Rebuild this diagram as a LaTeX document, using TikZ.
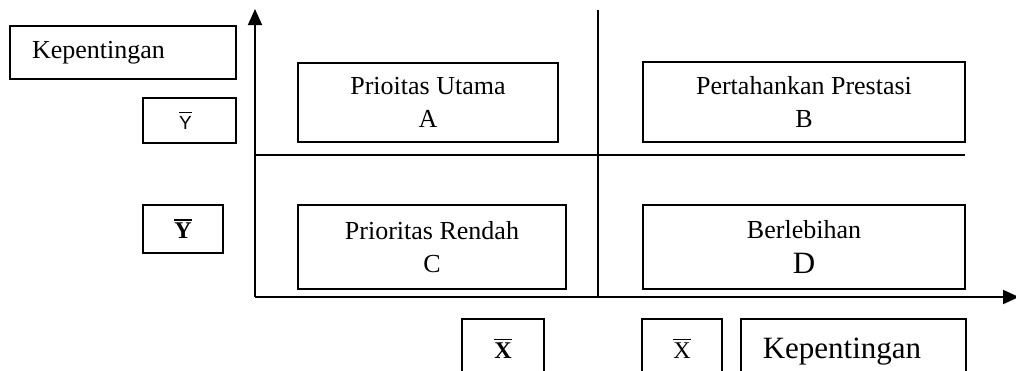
\documentclass[tikz,border=0pt]{standalone}
\usepackage{fontspec}
\setmainfont{Liberation Serif}
\newfontfamily\arialf{Liberation Sans}
\usetikzlibrary{arrows.meta}
\newcommand\barlbl[1]{\leavevmode\vbox{\hrule height 1.5pt\kern 2.6pt\hbox{#1}}}
\begin{document}
\begin{tikzpicture}[x=1pt,y=-1pt,
  box/.style={draw,line width=1.5pt,inner sep=0pt,align=center},
  txt/.style={font=\fontsize{26}{33}\selectfont},
  axis/.style={line width=1.8pt,-{Triangle[length=16pt,width=14pt]}},
  divider/.style={line width=1.4pt}]
\useasboundingbox (0,0) rectangle (1016,370);
\clip (0,0) rectangle (1016,370);
% axes and dividers
\coordinate (O) at (255,297);
\coordinate (ytop) at (255,9);
\coordinate (xend) at (1019,297);
\coordinate (vtop) at (598,10);
\coordinate (vbot) at (598,297);
\coordinate (hl) at (255,155);
\coordinate (hr) at (965,155);
\draw[axis] (O) -- (ytop);
\draw[axis] (O) -- (xend);
\draw[divider] (vtop) -- (vbot);
\draw[divider] (hl) -- (hr);
% quadrant boxes
\node[box,txt,minimum width=260pt,minimum height=79pt] (A) at (428,102.5) {Prioitas Utama\\A};
\node[box,txt,minimum width=322pt,minimum height=80pt] (B) at (804,102) {Pertahankan Prestasi\\B};
\node[box,txt,minimum width=268pt,minimum height=84pt] (C) at (432,247) {Prioritas Rendah\\C};
\node[box,txt,minimum width=322pt,minimum height=84pt] (D) at (804,247) {Berlebihan\\[2pt]{\fontsize{31}{36}\selectfont D}};
% left labels
\node[box,txt,minimum height=53pt,text width=182pt,inner xsep=22pt,align=left] (kepY) at (123,52.5) {Kepentingan};
\node[box,minimum width=93pt,minimum height=45pt,font=\arialf\fontsize{19}{22}\selectfont] (ybar1) at (189.5,120.5) {\hspace*{-8pt}\barlbl{Y}};
\node[box,minimum width=80pt,minimum height=48pt,font=\fontsize{24}{28}\selectfont\bfseries] (ybar2) at (183,229) {\barlbl{Y}};
% bottom labels
\node[box,anchor=north,minimum width=82pt,minimum height=60pt,font=\fontsize{24}{28}\selectfont\bfseries] (xbar1) at (503,318) {\barlbl{X}};
\node[box,anchor=north,minimum width=80pt,minimum height=60pt,font=\fontsize{24}{28}\selectfont] (xbar2) at (682,318) {\barlbl{X}};
\node[box,anchor=north west,minimum height=66pt,text width=181pt,inner xsep=22pt,align=left,font=\fontsize{31}{36}\selectfont] (kepX) at (740,318) {Kepentingan};
\end{tikzpicture}
\end{document}
